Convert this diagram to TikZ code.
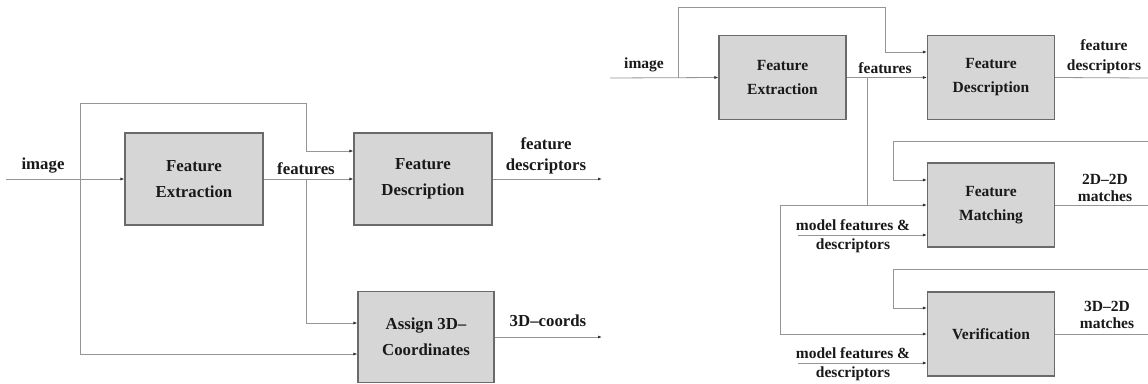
\documentclass[tikz,border=0pt]{standalone}
\usepackage{fontspec}
\setmainfont{Liberation Serif}
\usetikzlibrary{arrows.meta,calc}
\definecolor{boxfill}{HTML}{D6D6D6}
\definecolor{boxline}{HTML}{6A6A6A}
\definecolor{wire}{HTML}{959595}
\tikzset{
  blockL/.style={draw=boxline, line width=1.1pt, fill=boxfill, minimum width=138pt, minimum height=92pt, align=center, inner sep=0pt, font=\bfseries\fontsize{16.8}{26}\selectfont, text=black!90},
  blockR/.style={draw=boxline, line width=1.1pt, fill=boxfill, minimum width=127pt, minimum height=84pt, align=center, inner sep=0pt, font=\bfseries\fontsize{15.5}{24}\selectfont, text=black!90},
  wireline/.style={draw=wire, line width=0.8pt},
  arr/.style={wireline, -{Latex[length=4pt,width=3pt,color=black!80]}},
  lblL/.style={align=center, inner sep=0pt, font=\bfseries\fontsize{16.8}{21}\selectfont, text=black!90},
  lblR/.style={align=center, inner sep=0pt, font=\bfseries\fontsize{15.5}{20}\selectfont, text=black!90},
  lblRt/.style={align=center, inner sep=0pt, font=\bfseries\fontsize{15.5}{16.5}\selectfont, text=black!90},
}
\begin{document}
\begin{tikzpicture}[x=1pt,y=-1pt]
\useasboundingbox (0,0) rectangle (1148,383);
\fill[white] (0,0) rectangle (1148,383);

% ---------------- left diagram ----------------
\node[blockL] (LFE) at (194,179) {Feature\\Extraction};
\node[blockL] (LFD) at (423,179) {Feature\\Description};
\node[blockL, minimum width=136pt, minimum height=91pt] (LAS) at (426,337) {Assign 3D--\\Coordinates};

\coordinate (Lin) at (6,179);
\coordinate (Lj) at (80,179);
\coordinate (Ltop) at (80,103);
\coordinate (Ltop2) at (306,103);
\coordinate (Lfj) at (306,179);
\coordinate (Lbot) at (80,354);
\coordinate (Lout1) at (602,179);
\coordinate (Lout2) at (602,337);

\draw[arr] (Lin) -- (LFE.west);
\draw[arr] (Lj) -- (Ltop) -- (Ltop2) |- ($(LFD.west)+(0,-28)$);
\draw[arr] (LFE.east) -- (LFD.west);
\draw[arr] (Lfj) |- ($(LAS.west)+(0,-14)$);
\draw[arr] (Lj) -- (Lbot) -- ($(LAS.west)+(0,17)$);
\draw[arr] (LFD.east) -- (Lout1);
\draw[arr] (LAS.east) -- (Lout2);

\node[lblL] (Limg) at (43,166) {image};
\node[lblL] (Lfeat) at (306,169) {features};
\node[lblL] (Ldesc) at (546,156) {feature\\descriptors};
\node[lblL] (L3d) at (548,321) {3D--coords};

% ---------------- right diagram ----------------
\node[blockR] (RFE) at (782.5,77.5) {Feature\\Extraction};
\node[blockR] (RFD) at (991,77.5) {Feature\\Description};
\node[blockR] (RFM) at (991,205) {Feature\\Matching};
\node[blockR] (RVE) at (991,334) {Verification};

\coordinate (Rin) at (610,78);
\coordinate (Rj) at (678,78);
\coordinate (Rtop) at (678,7);
\coordinate (Rtop2) at (885,7);
\coordinate (Rfj) at (867,78);
\coordinate (Rfd) at (867,205);
\coordinate (Rleft) at (780,205);
\coordinate (Rleft2) at (780,334);
\coordinate (Rm1) at (798,235);
\coordinate (Rm2) at (798,363);
\coordinate (Rfb1) at (1148,141);
\coordinate (Rfb1b) at (893,141);
\coordinate (Rfb2) at (1148,269);
\coordinate (Rfb2b) at (893,269);
\coordinate (Rout1) at (1148,78);
\coordinate (Rout2) at (1148,205);
\coordinate (Rout3) at (1148,334);

\draw[arr] (Rin) -- (RFE.west);
\draw[arr] (Rj) -- (Rtop) -- (Rtop2) |- ($(RFD.west)+(0,-25.5)$);
\draw[arr] (RFE.east) -- (RFD.west);
\draw[wireline] (Rfj) -- (Rfd);
\draw[arr] (Rleft) -- (RFM.west);
\draw[arr] (Rleft) -- (Rleft2) -- (RVE.west);
\draw[arr] (Rm1) -- ($(RFM.west)+(0,30)$);
\draw[arr] (Rm2) -- ($(RVE.west)+(0,29)$);
\draw[arr] (Rfb1) -- (Rfb1b) |- ($(RFM.west)+(0,-25)$);
\draw[arr] (Rfb2) -- (Rfb2b) |- ($(RVE.west)+(0,-26)$);
\draw[wireline] (RFD.east) -- (Rout1);
\draw[wireline] (RFM.east) -- (Rout2);
\draw[wireline] (RVE.east) -- (Rout3);

\node[lblR] (Rimg) at (644,65) {image};
\node[lblR] (Rfeat) at (885,68) {features};
\node[lblR] (Rdesc) at (1104,57) {feature\\descriptors};
\node[lblRt] (R22) at (1105,188) {2D--2D\\matches};
\node[lblRt] (R32) at (1107,315) {3D--2D\\matches};
\node[lblR] (Rmf1a) at (853,225) {model features \&};
\node[lblR] (Rmf1b) at (853,246) {descriptors};
\node[lblR] (Rmf2a) at (853,353) {model features \&};
\node[lblR] (Rmf2b) at (853,374) {descriptors};
\end{tikzpicture}
\end{document}
